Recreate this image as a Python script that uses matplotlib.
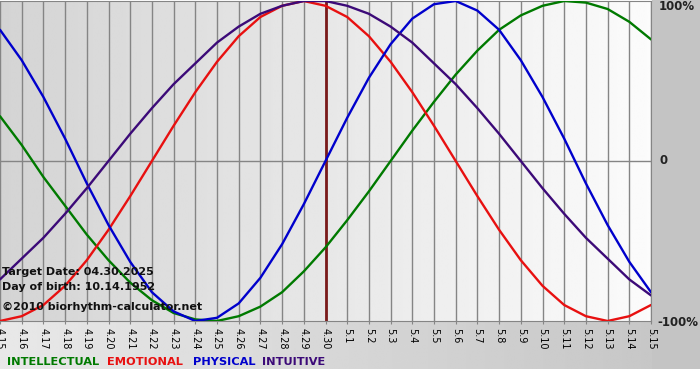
import numpy as np
import matplotlib
matplotlib.use('Agg')
import matplotlib.pyplot as plt
from matplotlib.patches import Rectangle

# day labels, 4.15 .. 5.15
dates = ['4.15', '4.16', '4.17', '4.18', '4.19', '4.20', '4.21', '4.22', '4.23', '4.24',
         '4.25', '4.26', '4.27', '4.28', '4.29', '4.30', '5.1', '5.2', '5.3', '5.4',
         '5.5', '5.6', '5.7', '5.8', '5.9', '5.10', '5.11', '5.12', '5.13', '5.14', '5.15']

# cycle values read per day (-1 .. 1)
intellectual = [0.28, 0.10, -0.10, -0.28, -0.46, -0.62, -0.76, -0.87, -0.95, -0.99,
                -1.00, -0.97, -0.91, -0.82, -0.69, -0.54, -0.37, -0.19, 0.00, 0.19,
                0.37, 0.54, 0.69, 0.82, 0.91, 0.97, 1.00, 0.99, 0.95, 0.87, 0.76]
emotional = [-1.00, -0.97, -0.90, -0.78, -0.62, -0.43, -0.22, 0.00, 0.22, 0.43,
             0.62, 0.78, 0.90, 0.97, 1.00, 0.97, 0.90, 0.78, 0.62, 0.43,
             0.22, 0.00, -0.22, -0.43, -0.62, -0.78, -0.90, -0.97, -1.00, -0.97, -0.90]
physical = [0.82, 0.63, 0.40, 0.14, -0.14, -0.40, -0.63, -0.82, -0.94, -1.00,
            -0.98, -0.89, -0.73, -0.52, -0.27, 0.00, 0.27, 0.52, 0.73, 0.89,
            0.98, 1.00, 0.94, 0.82, 0.63, 0.40, 0.14, -0.14, -0.40, -0.63, -0.82]
intuitive = [-0.74, -0.61, -0.48, -0.33, -0.17, 0.00, 0.17, 0.33, 0.48, 0.61,
             0.74, 0.84, 0.92, 0.97, 1.00, 1.00, 0.97, 0.92, 0.84, 0.74,
             0.61, 0.48, 0.33, 0.17, 0.00, -0.17, -0.33, -0.48, -0.61, -0.74, -0.84]

target_idx = dates.index('4.30')
series = [('INTELLECTUAL', intellectual, '#007a00'),
          ('EMOTIONAL', emotional, '#e81010'),
          ('PHYSICAL', physical, '#0000cc'),
          ('INTUITIVE', intuitive, '#3c0a78')]

W, H = 700, 380
fig = plt.figure(figsize=(W / 100, H / 100), dpi=100)
fig.patch.set_facecolor('white')

# background layer in pixel coords
bg = fig.add_axes([0, 0, 1, 1], zorder=0)
bg.set_xlim(0, W)
bg.set_ylim(H, 0)
bg.axis('off')
band = np.linspace(0.91, 0.77, 256).reshape(1, -1)
bg.imshow(band, cmap='gray', vmin=0, vmax=1, aspect='auto',
          extent=(0, W, 369, 321), interpolation='bilinear')
bg.add_patch(Rectangle((652, 0), 48, 369, facecolor='#c4c4c4', edgecolor='none'))

# plot area
ax = fig.add_axes([0, (H - 321) / H, 651 / W, 320 / H], zorder=1)
ax.patch.set_alpha(0)
x = np.arange(len(dates))
grad = np.linspace(0.83, 0.985, 256).reshape(1, -1)
ax.imshow(grad, cmap='gray', vmin=0, vmax=1, aspect='auto',
          extent=(0, len(dates) - 1, -1, 1), interpolation='bilinear', zorder=0)
ax.set_xlim(0, len(dates) - 1)
ax.set_ylim(-1, 1)

for xi in x:
    ax.axvline(xi, color='#858585', lw=1, zorder=1)
ax.axhline(0, color='#858585', lw=1, zorder=1)
ax.axvline(target_idx, color='#7a1a1a', lw=2, zorder=2)

for name, vals, col in series:
    ax.plot(x, vals, color=col, lw=1.7, zorder=3, solid_capstyle='round',
            solid_joinstyle='round')

ax.set_xticks(x)
ax.set_xticklabels(dates, rotation=-90, fontsize=7)
ax.tick_params(axis='x', length=2, color='#858585', pad=3)
ax.set_yticks([])
for s in ['top', 'bottom', 'right']:
    ax.spines[s].set_color('#858585')
ax.spines['left'].set_visible(False)

# right side labels
fig.text(659 / W, 1 - 7 / H, '100%', fontsize=8.5, fontweight='bold', color='#222222', va='center')
fig.text(659 / W, 1 - 161 / H, '0', fontsize=8.5, fontweight='bold', color='#222222', va='center')
fig.text(657 / W, 1 - 322 / H, '-100%', fontsize=8.5, fontweight='bold', color='#222222', va='center')

# info text
info = ['Target Date: 04.30.2025', 'Day of birth: 10.14.1952', '\u00a92010 biorhythm-calculator.net']
for txt, yy in zip(info, [272, 287, 307]):
    fig.text(2 / W, 1 - yy / H, txt, fontsize=8, fontweight='bold', color='#111111',
             va='center', zorder=5)

# legend words
for (name, vals, col), xx in zip(series, [7, 107, 193, 262]):
    fig.text(xx / W, 1 - 362 / H, name, fontsize=8.2, fontweight='bold', color=col, va='center')

plt.savefig('out.png', dpi=100)
